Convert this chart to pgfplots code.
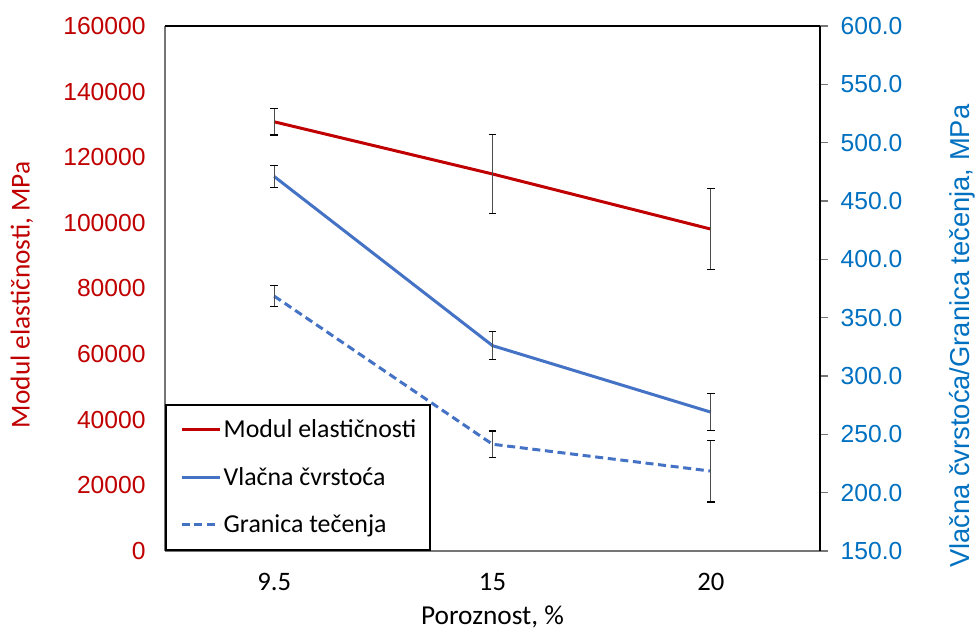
\documentclass[border=0pt]{standalone}
\usepackage{pgfplots}
\pgfplotsset{compat=1.18}
\usepackage{fontspec}
\setmainfont{Carlito}
\newfontfamily\arial{Liberation Sans}
\definecolor{cred}{HTML}{C00000}
\definecolor{cblue}{HTML}{4472C4}
\definecolor{ctick}{HTML}{0070C0}
\definecolor{cgray}{HTML}{767676}
\begin{document}
\begin{tikzpicture}
\path[use as bounding box] (0,0) rectangle (732.75pt,472.5pt);
\begin{axis}[
  at={(123.75pt,59.25pt)}, anchor=south west,
  scale only axis, width=491.25pt, height=393.75pt,
  xmin=-0.5, xmax=2.5, xtick={0,1,2}, xticklabels={9.5,15,20},
  ymin=0, ymax=160000, ytick distance=20000,
  axis x line*=bottom, axis y line*=left,
  x axis line style={cgray, line width=1.5pt},
  y axis line style={cgray, line width=1.5pt},
  major tick length=0pt,
  scaled y ticks=false,
  /pgf/number format/assume math mode=true,
  yticklabel style={font=\fontsize{18.5}{22}\arial, text=cred, xshift=-11pt, /pgf/number format/.cd, fixed, 1000 sep={}},
  xticklabel style={font=\fontsize{20}{24}\selectfont, yshift=-13pt},
  xlabel={Poroznost, \%},
  xlabel style={font=\fontsize{20.5}{24}\selectfont, at={(axis description cs:0.5,0)}, anchor=center, yshift=-49.5pt},
  ylabel={Modul elastičnosti, MPa},
  ylabel style={font=\fontsize{20.5}{24}\selectfont, text=cred, at={(axis description cs:-0.2183,0.488)}, anchor=center},
]
\addplot[cred, line width=2.25pt, error bars/.cd, y dir=both, y explicit,
  error bar style={line width=0.9pt, black!70},
  error mark options={rotate=90, mark size=2.8pt, black, line width=0.9pt}]
  coordinates {(0,130800) +- (0,4000) (1,114900) +- (0,12000) (2,98100) +- (0,12300)};
\end{axis}
\begin{axis}[
  at={(123.75pt,59.25pt)}, anchor=south west,
  scale only axis, width=491.25pt, height=393.75pt,
  xmin=-0.5, xmax=2.5, xtick=\empty,
  ymin=150, ymax=600, ytick distance=50,
  axis x line*=top, axis y line*=right,
  x axis line style={black, line width=1.5pt},
  y axis line style={black, line width=1.5pt},
  y tick style={cgray, line width=1pt}, major tick length=6pt, tick align=outside,
  /pgf/number format/assume math mode=true,
  yticklabel style={font=\fontsize{18.5}{22}\arial, text=ctick, xshift=6pt, /pgf/number format/.cd, fixed, fixed zerofill, precision=1},
  ylabel={Vlačna čvrstoća/Granica tečenja, MPa},
  ylabel style={font=\fontsize{20.5}{24}\arial, text=ctick, at={(axis description cs:1.217,0.409)}, anchor=center},
  legend style={at={(0,0)}, anchor=south west, draw=black, line width=1.5pt, fill=white,
    font=\fontsize{19.4}{23}\selectfont, inner xsep=10.5pt, inner ysep=1pt, row sep=0pt,
    nodes={inner sep=0pt, minimum height=35.6pt},
    /tikz/every odd column/.append style={column sep=2pt}},
  legend cell align=left,
  legend image code/.code={\draw[#1] (0pt,0pt) -- (28.5pt,0pt);},
]
\addlegendimage{cred, line width=2.25pt}
\addlegendentry{Modul elastičnosti}
\addplot[cblue, line width=2.25pt, error bars/.cd, y dir=both, y explicit,
  error bar style={line width=0.9pt, black!70},
  error mark options={rotate=90, mark size=2.8pt, black, line width=0.9pt}]
  coordinates {(0,471) +- (0,9.5) (1,326) +- (0,12) (2,269) +- (0,16)};
\addlegendentry{Vlačna čvrstoća}
\addplot[cblue, line width=2.25pt, dash pattern=on 6pt off 3.5pt, error bars/.cd, y dir=both, y explicit,
  error bar style={line width=0.9pt, black!70, solid},
  error mark options={rotate=90, mark size=2.8pt, black, line width=0.9pt, solid}]
  coordinates {(0,368.5) +- (0,8.8) (1,241.5) +- (0,11.4) (2,218.5) +- (0,26.5)};
\addlegendentry{Granica tečenja}
\end{axis}
\end{tikzpicture}
\end{document}
